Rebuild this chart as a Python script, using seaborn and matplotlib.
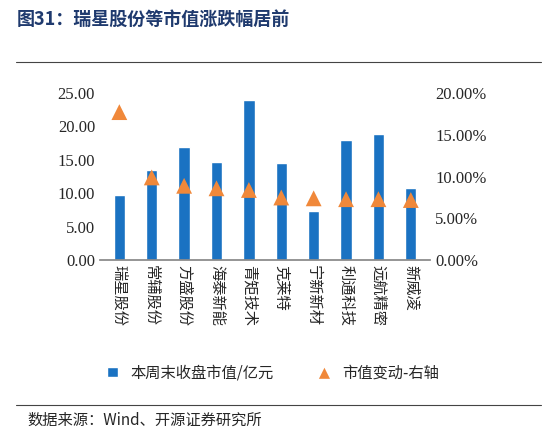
import matplotlib
matplotlib.use("Agg")
import matplotlib.pyplot as plt
import seaborn as sns
import pandas as pd

categories = ["瑞星股份","常辅股份","方盛股份","海泰新能","青矩技术","克莱特","宁新新材","利通科技","远航精密","新威凌"]
market_cap = [9.7,13.5,16.9,14.7,24.0,14.5,7.3,18.0,18.9,10.8]
change_pct = [17.7,9.9,8.9,8.6,8.4,7.5,7.4,7.3,7.3,7.2]

sns.set_theme(style="white")
plt.rcParams['font.family'] = ['Liberation Serif', 'Noto Sans CJK SC', 'DejaVu Sans']

df = pd.DataFrame({"cat": categories, "cap": market_cap, "chg": change_pct})
fig = plt.figure(figsize=(5.46, 4.36), dpi=100)
ax = fig.add_axes([0.183, 0.403, 0.605, 0.384])
sns.barplot(data=df, x="cat", y="cap", color="#1a72c2", saturation=1, width=0.35, ax=ax, label="本周末收盘市值/亿元")
ax2 = ax.twinx()
sns.scatterplot(x=list(range(len(categories))), y=change_pct, marker="^", s=130, color="#f0883a",
                edgecolor="none", ax=ax2, label="市值变动-右轴", legend=False)
ax.set_ylim(0, 25); ax2.set_ylim(0, 20)
ax.set_yticks([0,5,10,15,20,25]); ax.set_yticklabels([f"{v:.2f}" for v in [0,5,10,15,20,25]], fontsize=12)
ax2.set_yticks([0,5,10,15,20]); ax2.set_yticklabels([f"{v:.2f}%" for v in [0,5,10,15,20]], fontsize=12)
ax.set_xticks(range(len(categories)))
ax.set_xticklabels(categories, fontsize=11, family=['Noto Sans CJK SC'], rotation=-90, va="top", ha="center")
ax.set_xlabel(""); ax.set_ylabel(""); ax2.set_ylabel("")
ax.set_xlim(-0.6, 9.6)
for a in (ax, ax2):
    for s in a.spines.values():
        s.set_visible(False)
    a.tick_params(length=0)
ax.spines['bottom'].set_visible(True); ax.spines['bottom'].set_color("#888888")
if ax.get_legend(): ax.get_legend().remove()
h1, l1 = ax.get_legend_handles_labels(); h2, l2 = ax2.get_legend_handles_labels()
leg = fig.legend(h1+h2, l1+l2, loc="center", bbox_to_anchor=(0.5, 0.145), ncol=2, frameon=False,
           prop={'family': ['Noto Sans CJK SC'], 'size': 11}, handlelength=0.7, columnspacing=3,
           markerscale=0.7)
fig.text(0.03, 0.955, "图31：瑞星股份等市值涨跌幅居前", fontsize=13, fontweight="bold", color="#1f3a6e",
         family=['Noto Sans CJK SC'], va="center")
fig.add_artist(plt.Line2D([0.03, 0.99], [0.858, 0.858], color="#444444", lw=0.8))
fig.add_artist(plt.Line2D([0.03, 0.99], [0.072, 0.072], color="#444444", lw=0.8))
fig.text(0.05, 0.035, "数据来源：Wind、开源证券研究所", fontsize=11, family=['Noto Sans CJK SC', 'DejaVu Sans'], va="center")
fig.savefig("out.png", dpi=100)
